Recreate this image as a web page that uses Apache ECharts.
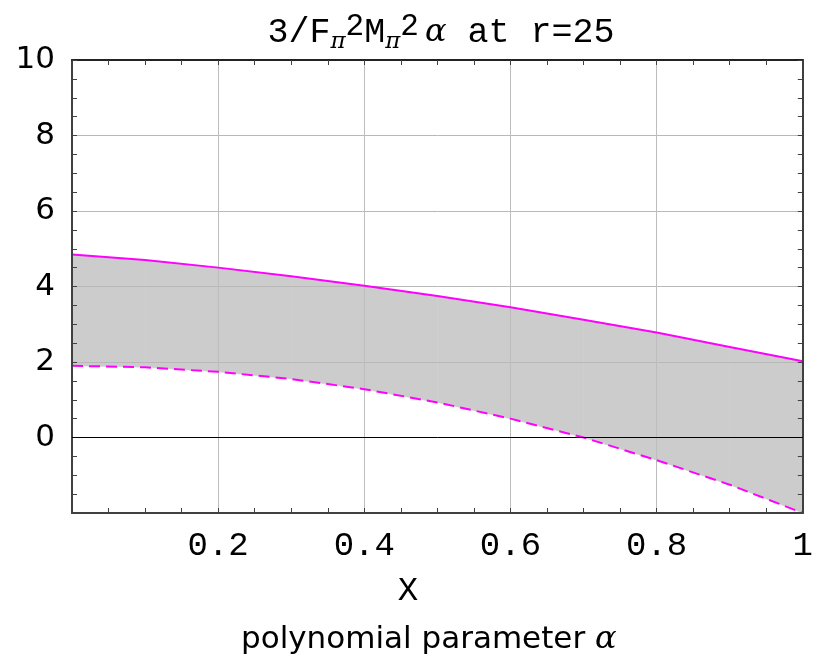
<!DOCTYPE html>
<html>
<head>
<meta charset="utf-8">
<script src="https://cdn.jsdelivr.net/npm/echarts@6/dist/echarts.min.js"></script>
<style>
  html, body { margin: 0; padding: 0; background: #fff; }
  #chart { width: 816px; height: 662px; }
</style>
</head>
<body>
<div id="chart"></div>
<script>
// giá trị
let xs = [0, 0.1, 0.2, 0.3, 0.4, 0.5, 0.6, 0.7, 0.8, 0.9, 1.0];
let upper = [4.85, 4.70, 4.50, 4.27, 4.02, 3.75, 3.45, 3.12, 2.78, 2.40, 2.02];
let lower = [1.90, 1.86, 1.74, 1.55, 1.28, 0.93, 0.50, 0.00, -0.60, -1.25, -2.00];

let yTicks = [0, 2, 4, 6, 8, 10];
let xTicks = [0.2, 0.4, 0.6, 0.8, 1];

const mono = 'Liberation Mono';
const sans = 'DejaVu Sans';

var myChart = echarts.init(document.getElementById('chart'));

let upperData = xs.map((x, i) => [x, upper[i]]);
let lowerData = xs.map((x, i) => [x, lower[i]]);
// mỗi đoạn của dải xám: [x0, x1, lo0, lo1, up0, up1]
let bandData = xs.slice(0, -1).map((x, i) => [x, xs[i + 1], lower[i], lower[i + 1], upper[i], upper[i + 1]]);

let tickIn = { show: true, inside: true, length: 5, lineStyle: { color: '#404040', width: 1 } };

// trục phụ chỉ để vẽ vạch chia nhỏ
function tickX(pos, lineColor) {
    return {
        type: 'value', position: pos, min: 0, max: 1, interval: 0.05, z: 4,
        axisLine: { show: true, onZero: false, lineStyle: { color: lineColor, width: 2 } },
        axisTick: tickIn, splitLine: { show: false }, axisLabel: { show: false }
    };
}
function tickY(pos) {
    return {
        type: 'value', position: pos, min: -2, max: 10, interval: 0.5, z: 4,
        axisLine: { show: true, onZero: false, lineStyle: { color: '#404040', width: 2 } },
        axisTick: tickIn, splitLine: { show: false }, axisLabel: { show: false }
    };
}

let option = {
    animation: false,
    backgroundColor: '#fff',
    grid: { left: 72, right: 11, top: 60, bottom: 149 },
    title: {
        text: '3/F{sub|π}{sup|2}M{sub|π}{sup|2}{al|α} at r=25',
        left: 436,
        top: 6,
        textAlign: 'center',
        textStyle: {
            fontFamily: mono,
            fontSize: 35,
            fontWeight: 'normal',
            color: '#000',
            rich: {
                sub: { fontFamily: 'DejaVu Serif', fontStyle: 'italic', fontSize: 23, verticalAlign: 'bottom', padding: [12, 0, 0, 0] },
                sup: { fontFamily: mono, fontSize: 31, verticalAlign: 'top', padding: [0, 0, 12, 0] },
                al: { fontFamily: 'DejaVu Serif', fontStyle: 'italic', fontSize: 32, padding: [0, 0, 0, 6] }
            }
        }
    },
    graphic: [
        {
            type: 'text',
            left: 'center',
            top: 574,
            style: { text: 'X', font: '34px "Liberation Mono"', fill: '#000' }
        },
        {
            type: 'text',
            left: 241,
            top: 624,
            style: {
                text: 'polynomial parameter {al|α}',
                font: '31px "DejaVu Sans"',
                fill: '#000',
                rich: { al: { fontFamily: 'DejaVu Serif', fontStyle: 'italic', fontSize: 32 } }
            }
        }
    ],
    xAxis: [
        {
            type: 'value',
            min: 0,
            max: 1,
            interval: 0.2,
            z: 2,
            axisLine: { show: false, onZero: false },
            axisTick: { show: false },
            splitLine: { show: true, lineStyle: { color: '#bdbdbd', width: 1 } },
            axisLabel: {
                fontFamily: mono,
                fontSize: 34,
                color: '#000',
                margin: 16,
                formatter: v => xTicks.some(t => Math.abs(t - v) < 1e-9) ? String(+v.toFixed(1)) : ''
            }
        },
        tickX('bottom', '#404040'),
        tickX('top', '#222')
    ],
    yAxis: [
        {
            type: 'value',
            min: -2,
            max: 10,
            interval: 2,
            z: 2,
            axisLine: { show: false, onZero: false },
            axisTick: { show: false },
            splitLine: { show: true, lineStyle: { color: '#b8b8b8', width: 1 } },
            axisLabel: {
                fontFamily: sans,
                fontSize: 31,
                color: '#000',
                margin: 17,
                formatter: v => yTicks.includes(v) ? String(v) : ''
            }
        },
        tickY('left'),
        tickY('right')
    ],
    series: [
        {
            name: 'band',
            type: 'custom',
            data: bandData,
            silent: true,
            z: 1,
            renderItem: function (params, api) {
                let a = api.coord([api.value(0), api.value(2)]);
                let b = api.coord([api.value(1), api.value(3)]);
                let c = api.coord([api.value(1), api.value(5)]);
                let d = api.coord([api.value(0), api.value(4)]);
                return {
                    type: 'polygon',
                    shape: { points: [a, b, c, d] },
                    style: { fill: '#cccccc', stroke: '#cccccc', lineWidth: 0.6 }
                };
            },
            encode: { x: [0, 1], y: [2, 3, 4, 5] }
        },
        {
            name: 'upper',
            type: 'line',
            data: upperData,
            showSymbol: false,
            lineStyle: { color: '#ff00ff', width: 2 },
            z: 3,
            markLine: {
                silent: true,
                symbol: 'none',
                label: { show: false },
                lineStyle: { color: '#000', width: 1, type: 'solid' },
                data: [{ yAxis: 0 }]
            }
        },
        {
            name: 'lower',
            type: 'line',
            data: lowerData,
            showSymbol: false,
            lineStyle: { color: '#ff00ff', width: 2, type: [11, 6] },
            z: 3
        }
    ]
};

myChart.setOption(option);
</script>
</body>
</html>
